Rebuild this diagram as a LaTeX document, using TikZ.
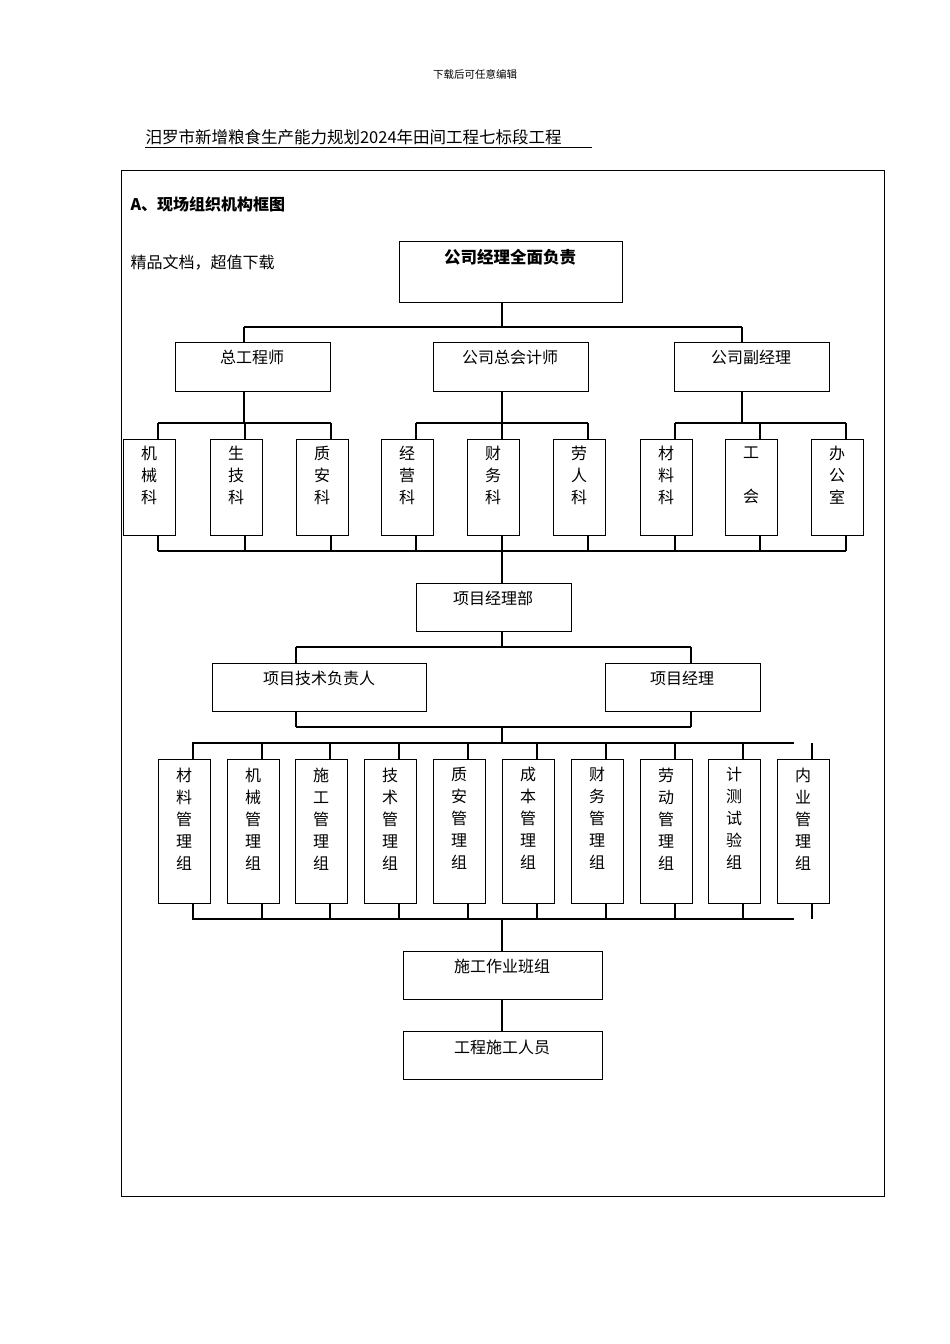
\documentclass[tikz,border=0pt]{standalone}
\usepackage{fontspec}
\setmainfont{Noto Sans CJK SC}
\begin{document}
\begin{tikzpicture}[x=1pt,y=-1pt,line width=1.1pt,
  box/.style={draw,inner sep=0,anchor=north west},
  lbl/.style={font=\fontsize{16}{22}\selectfont,anchor=north,inner sep=0,align=center},
  ln/.style={line width=1.1pt}]
\useasboundingbox (0,0) rectangle (950,1344);
\node[font=\fontsize{10.5}{12}\selectfont] (hdr) at (475,74) {下载后可任意编辑};
\node[font=\fontsize{16.5}{20}\selectfont,anchor=west,inner sep=0] (ttl) at (145,137) {汨罗市新增粮食生产能力规划2024年田间工程七标段工程};
\draw[line width=0.6pt] (145,147) -- (592,147);
\draw[line width=0.8pt] (121,170) rectangle (884,1196);
\node[font=\bfseries\fontsize{16}{20}\selectfont,anchor=west,inner sep=0] (sec) at (130,204) {A、现场组织机构框图};
\node[font=\fontsize{16}{20}\selectfont,anchor=west,inner sep=0] (ad) at (130,263) {精品文档，超值下载};
% top
\node[box,minimum width=223,minimum height=61] (top) at (399,241) {};
\node[lbl,font=\bfseries\fontsize{16.5}{22}\selectfont] (topt) at (510,249) {公司经理全面负责};
% level 2
\node[box,minimum width=155,minimum height=49] (a1) at (175,342) {};
\node[box,minimum width=155,minimum height=49] (a2) at (433,342) {};
\node[box,minimum width=155,minimum height=49] (a3) at (674,342) {};
\node[lbl] at (252,350) {总工程师};
\node[lbl] at (510,350) {公司总会计师};
\node[lbl] at (751,350) {公司副经理};
\coordinate (t1) at (244,327); \coordinate (t2) at (742,327);
\draw (502,302) -- (502,327);
\draw (t1) -- (t2);
\draw (t1) -- (244,342); \draw (t2) -- (742,342);
% level 3
\foreach \i/\x/\t in {1/123/机\\械\\科,2/210/生\\技\\科,3/296/质\\安\\科,4/381/经\\营\\科,5/467/财\\务\\科,6/553/劳\\人\\科,7/640/材\\料\\科,8/725/工\\\\会,9/811/办\\公\\室}{
  \node[box,minimum width=52,minimum height=96] (k\i) at (\x,439) {};
  \node[lbl] at (\x+26,446) {\t};
  \draw (\x+35,423) -- (\x+35,439);
  \draw (\x+35,535) -- (\x+35,551);
}
\draw (244,391) -- (244,423); \draw (502,391) -- (502,423); \draw (742,391) -- (742,423);
\draw (158,423) -- (331,423); \draw (416,423) -- (588,423); \draw (675,423) -- (846,423);
\draw (158,551) -- (846,551);
\draw (502,551) -- (502,583);
% project dept
\node[box,minimum width=155,minimum height=48] (pm) at (416,583) {};
\node[lbl] at (493,590) {项目经理部};
\draw (502,631) -- (502,647);
\draw (296,647) -- (691,647);
\draw (296,647) -- (296,663); \draw (691,647) -- (691,663);
\node[box,minimum width=214,minimum height=48] (p1) at (212,663) {};
\node[box,minimum width=155,minimum height=48] (p2) at (605,663) {};
\node[lbl] at (319,671) {项目技术负责人};
\node[lbl] at (682,671) {项目经理};
\draw (296,711) -- (296,727); \draw (691,711) -- (691,727);
\draw (296,727) -- (691,727);
\draw (502,727) -- (502,743);
\draw (192,743) -- (794,743);
\foreach \i/\x/\t in {1/158/材\\料\\管\\理\\组,2/227/机\\械\\管\\理\\组,3/295/施\\工\\管\\理\\组,4/364/技\\术\\管\\理\\组,5/433/质\\安\\管\\理\\组,6/502/成\\本\\管\\理\\组,7/571/财\\务\\管\\理\\组,8/640/劳\\动\\管\\理\\组,9/708/计\\测\\试\\验\\组,10/777/内\\业\\管\\理\\组}{
  \node[box,minimum width=52,minimum height=144] (g\i) at (\x,759) {};
  \node[lbl] at (\x+26,767) {\t};
  \draw (\x+35,743) -- (\x+35,759);
  \draw (\x+35,903) -- (\x+35,919);
}
\draw (192,919) -- (794,919);
\draw (502,919) -- (502,951);
\node[box,minimum width=199,minimum height=48] (w1) at (403,951) {};
\node[lbl] at (502,958) {施工作业班组};
\draw (502,999) -- (502,1031);
\node[box,minimum width=199,minimum height=48] (w2) at (403,1031) {};
\node[lbl] at (502,1039) {工程施工人员};
\end{tikzpicture}
\end{document}
